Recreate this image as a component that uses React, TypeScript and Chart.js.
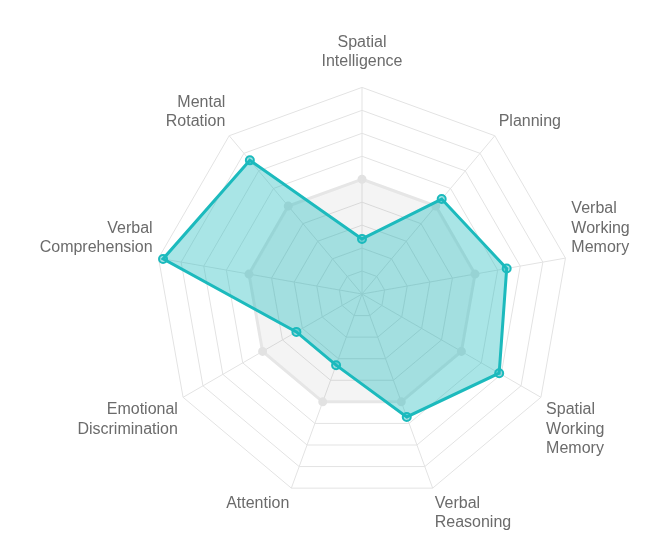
import { Chart, registerables } from "chart.js";
import { useEffect, useRef } from "react";

Chart.register(...registerables);

const labels = [
  ["Spatial", "Intelligence"],
  "Planning",
  ["Verbal", "Working", "Memory"],
  ["Spatial", "Working", "Memory"],
  ["Verbal", "Reasoning"],
  "Attention",
  ["Emotional", "Discrimination"],
  ["Verbal", "Comprehension"],
  ["Mental", "Rotation"],
];

const scores = [24, 54, 64, 69, 57, 33, 33, 88, 76];
const baseline = [50, 50, 50, 50, 50, 50, 50, 50, 50];

const teal = "rgb(28, 186, 189)";

const options = {
  animation: false as const,
  responsive: true,
  maintainAspectRatio: false,
  layout: {
    padding: { top: 22, bottom: 10, left: 12, right: 4 },
  },
  scales: {
    r: {
      min: 0,
      max: 90,
      // tick labels kept invisible, they only reserve room above the top axis
      ticks: { stepSize: 10, color: "transparent", showLabelBackdrop: false },
      grid: { color: "#e3e3e3" },
      angleLines: { color: "#e3e3e3" },
      pointLabels: {
        color: "#6b6b6b",
        padding: (ctx: { index: number }) => (ctx.index === 0 ? 8 : -2),
        font: { family: "Liberation Sans, Arial, sans-serif", size: 16 },
      },
    },
  },
  plugins: {
    legend: { display: false },
    tooltip: { enabled: false },
  },
};

export default function App() {
  const rootRef = useRef<null | HTMLCanvasElement>(null);

  useEffect(() => {
    if (!rootRef.current) return;

    const data = {
      labels,
      datasets: [
        {
          label: "Score",
          data: scores,
          borderColor: teal,
          borderWidth: 3,
          backgroundColor: "rgba(28, 186, 189, 0.38)",
          pointBackgroundColor: "rgba(28, 186, 189, 0.4)",
          pointBorderColor: teal,
          pointBorderWidth: 2,
          pointRadius: 4,
          fill: true,
        },
        {
          label: "Average",
          data: baseline,
          borderColor: "#e6e6e6",
          borderWidth: 3,
          backgroundColor: "rgba(0, 0, 0, 0.045)",
          pointBackgroundColor: "#e2e2e2",
          pointBorderColor: "#e2e2e2",
          pointRadius: 3,
          fill: true,
        },
      ],
    };
    const c = new Chart(rootRef.current, { type: "radar", options, data });

    return () => c.destroy();
  }, []);

  // the radial fit is loose, so the canvas is a bit wider than the page and clipped
  return (
    <div style={{ position: "absolute", left: 0, top: 0, width: 648, height: 554, overflow: "hidden" }}>
      <div style={{ width: 680, height: 554 }}>
        <canvas ref={rootRef} />
      </div>
    </div>
  );
}
